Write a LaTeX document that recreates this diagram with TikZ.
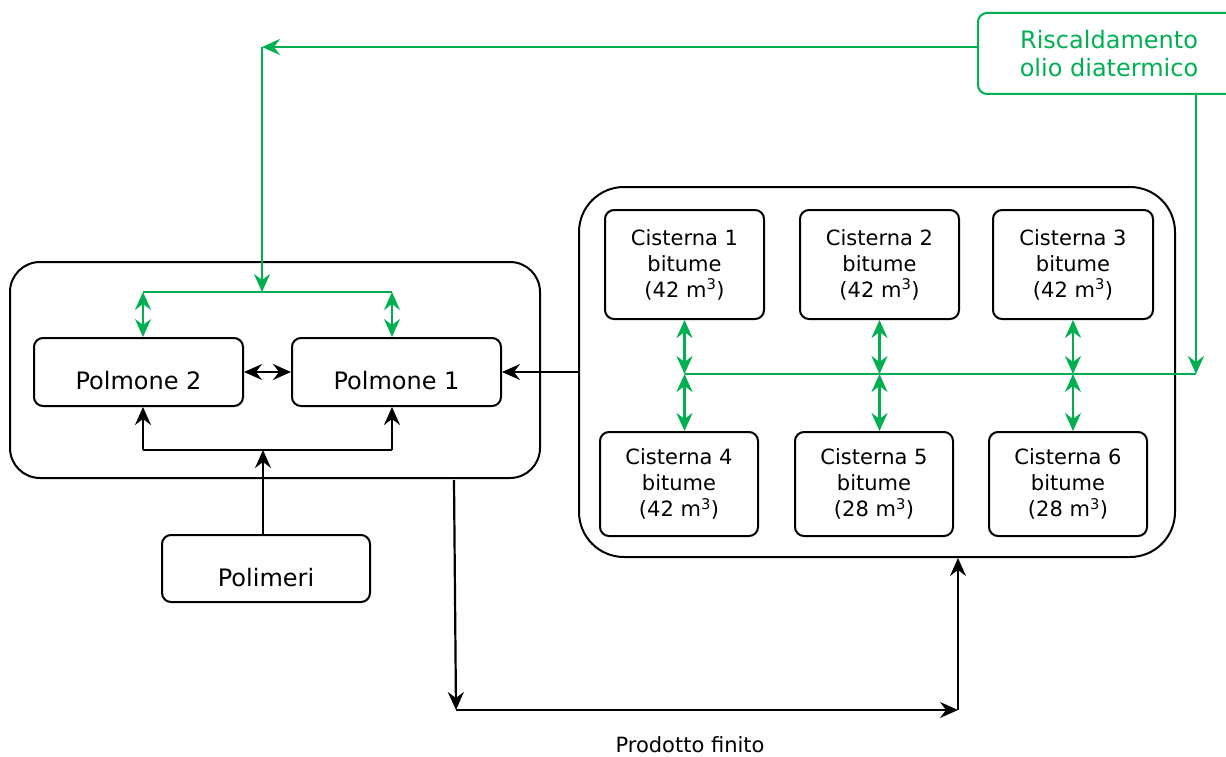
\documentclass[tikz,border=0pt]{standalone}
\usepackage{fontspec}
\setmainfont{DejaVu Sans}
\usetikzlibrary{arrows.meta,positioning}
\definecolor{heat}{RGB}{0,176,80}

\begin{document}
\begin{tikzpicture}[x=1pt,y=-1pt]
\tikzstyle{unit}=[draw=black,line width=2pt,rounded corners=9pt,inner sep=0pt,font=\fontsize{24}{28.5}\selectfont]
\tikzstyle{pump}=[unit,minimum width=209pt,minimum height=68pt,text height=35pt,text depth=0pt]
\tikzstyle{tank}=[unit,minimum width=159pt,align=center,font=\fontsize{21}{26}\selectfont]
\tikzstyle{group}=[draw=black,line width=2pt,inner sep=0pt]
\tikzstyle{flow}=[line width=2.2pt,-{Stealth[length=18pt,width=16pt,inset=6pt]}]
\tikzstyle{both}=[line width=2.2pt,{Stealth[length=18pt,width=16pt,inset=6pt]}-{Stealth[length=18pt,width=16pt,inset=6pt]}]
\tikzstyle{heatline}=[line width=2.2pt,draw=heat]
\useasboundingbox (0,0) rectangle (1226,757);
\node [group,rounded corners=30pt,minimum width=530pt,minimum height=216pt] at (275,370) (plant) {};
\node [group,rounded corners=45pt,minimum width=596pt,minimum height=370pt] at (877,372) (store) {};
\node [pump] at (138.5,372) (pol2) {Polmone 2};
\node [pump] at (396.5,372) (pol1) {Polmone 1};
\node [pump,minimum width=208pt,minimum height=67pt] at (266,568.5) (poli) {Polimeri};
\node [unit,draw=heat,text=heat,align=center,minimum width=262pt,minimum height=81pt] at (1109,53.5) (heater) {Riscaldamento\\olio diatermico};
\node [tank,minimum height=109pt] at (684.5,264.5) (c1) {Cisterna 1\\bitume\\(42 m\textsuperscript{3})};
\node [tank,minimum height=109pt] at (879.5,264.5) (c2) {Cisterna 2\\bitume\\(42 m\textsuperscript{3})};
\node [tank,minimum height=109pt,minimum width=160pt] at (1073,264.5) (c3) {Cisterna 3\\bitume\\(42 m\textsuperscript{3})};
\node [tank,minimum height=104pt,minimum width=158pt] at (679,484) (c4) {Cisterna 4\\bitume\\(42 m\textsuperscript{3})};
\node [tank,minimum height=104pt,minimum width=158pt] at (874,484) (c5) {Cisterna 5\\bitume\\(28 m\textsuperscript{3})};
\node [tank,minimum height=104pt,minimum width=158pt] at (1068,484) (c6) {Cisterna 6\\bitume\\(28 m\textsuperscript{3})};
\node [font=\fontsize{21}{25}\selectfont] at (690,745) (product) {Prodotto finito};
\coordinate (hottop) at (262,47);
\coordinate (busL) at (143,292);
\coordinate (busR) at (392,292);
\coordinate (mixL) at (143,450);
\coordinate (mixR) at (392,450);
\coordinate (mixC) at (263,450);
\coordinate (tankbus) at (685,374);
\coordinate (busend) at (1196,374);
\coordinate (outtop) at (454,480);
\coordinate (outbot) at (456,710);
\coordinate (outend) at (958,710);
\draw [flow,heat] (heater.west |- hottop) -- (hottop);
\draw [flow,heat] (hottop) -- (hottop |- busL);
\draw [heatline] (busL) -- (busR);
\draw [both,heat] (busL) -- (busL |- pol2.north);
\draw [both,heat] (busR) -- (busR |- pol1.north);
\draw [flow,heat] (busend |- heater.south) -- (busend);
\draw [heatline] (busend) -- (tankbus);
\foreach \up/\down in {c1/c4,c2/c5,c3/c6} {
  \draw [both,heat] (\up.south) -- (\up.south |- tankbus);
  \draw [both,heat] (\up.south |- tankbus) -- (\up.south |- \down.north);
}
\draw [both] (pol2.east) -- (pol1.west);
\draw [flow] (store.west |- pol1) -- (pol1.east);
\draw [line width=2.2pt] (mixL) -- (mixR);
\draw [flow] (mixL) -- (mixL |- pol2.south);
\draw [flow] (mixR) -- (mixR |- pol1.south);
\draw [flow] (mixC |- poli.north) -- (mixC);
\draw [flow] (outtop) -- (outbot);
\draw [flow] (outbot) -- (outend);
\draw [flow] (outend) -- (outend |- store.south);
\end{tikzpicture}
\end{document}
